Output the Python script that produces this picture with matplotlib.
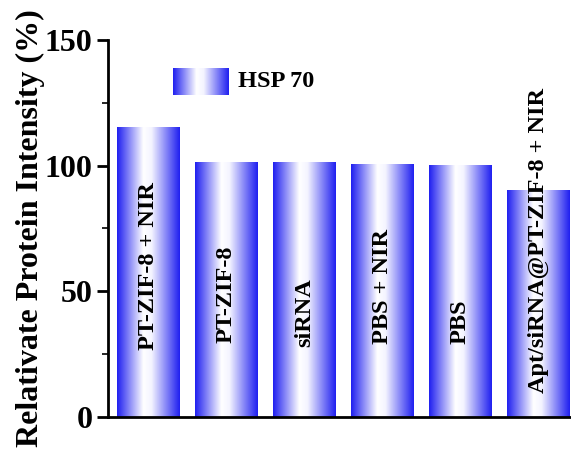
import numpy as np
import matplotlib
matplotlib.use("Agg")
import matplotlib.pyplot as plt
from matplotlib.colors import LinearSegmentedColormap
from matplotlib.ticker import MultipleLocator

groups = ["PT-ZIF-8 + NIR", "PT-ZIF-8", "siRNA", "PBS + NIR", "PBS",
          "Apt/siRNA@PT-ZIF-8 + NIR"]
values = [115.0, 101.2, 101.2, 100.5, 100.0, 90.3]
label_y = [26.5, 29.5, 28.0, 29.0, 29.0, 9.5]

plt.rcParams["font.family"] = "Liberation Serif"
plt.rcParams["font.weight"] = "bold"

blue = "#1f1ff0"
cmap = LinearSegmentedColormap.from_list(
    "bar", [(0.0, blue), (0.42, "#ffffff"), (0.55, "#f4f4ff"), (1.0, blue)])
grad = np.linspace(0, 1, 256).reshape(1, -1)

fig = plt.figure(figsize=(5.71, 4.51), dpi=100)
ax = fig.add_axes([108 / 571, 34 / 451, 463 / 571, 377 / 451])

width = 0.8
for i, (g, v) in enumerate(zip(groups, values)):
    ax.imshow(grad, cmap=cmap, aspect="auto", interpolation="bilinear",
              extent=[i - width / 2, i + width / 2, 0, v], zorder=2)
    ax.text(i, label_y[i], g, rotation=90, ha="center", va="bottom",
            fontsize=17.5, fontweight="bold", zorder=3)

# legend swatch
ax.imshow(grad, cmap=cmap, aspect="auto", interpolation="bilinear",
          extent=[0.14, 0.26, 0.855, 0.925], transform=ax.transAxes, zorder=2)
ax.text(0.28, 0.89, "HSP 70", transform=ax.transAxes, ha="left", va="center",
        fontsize=17.5, fontweight="bold")

ax.set_xlim(-0.52, 5.42)
ax.set_ylim(0, 150)
ax.set_xticks([])
ax.yaxis.set_major_locator(MultipleLocator(50))
ax.yaxis.set_minor_locator(MultipleLocator(25))
ax.tick_params(axis="y", which="major", length=8, width=2, labelsize=23, pad=3)
ax.tick_params(axis="y", which="minor", length=4, width=1.2)
for lab in ax.get_yticklabels():
    lab.set_fontweight("bold")
ax.spines["top"].set_visible(False)
ax.spines["right"].set_visible(False)
ax.spines["left"].set_linewidth(2)
ax.spines["bottom"].set_linewidth(2)
ax.set_ylabel("Relativate Protein Intensity (%)", fontsize=23,
              fontweight="bold", labelpad=0)

fig.savefig("out.png", dpi=100)
